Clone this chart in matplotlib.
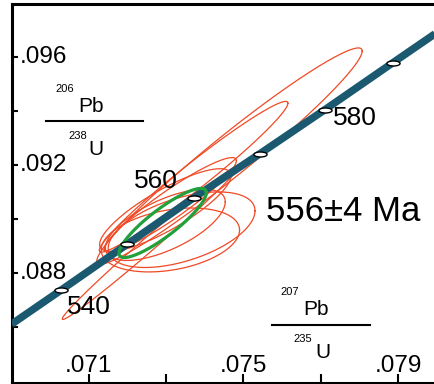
import matplotlib
matplotlib.use('Agg')
import matplotlib.pyplot as plt
import numpy as np
from matplotlib.path import Path

plt.rcParams['font.family'] = ['Liberation Sans', 'DejaVu Sans']

# Concordia ages and ratios (x is 207Pb/235U as labelled)
ages = [540, 550, 560, 570, 580, 590]
conc_x = [0.07029, 0.07200, 0.07371, 0.07542, 0.07710, 0.07886]
conc_y = [0.08737, 0.08907, 0.09078, 0.09241, 0.09404, 0.09578]
# curve continues to the frame edges
line_x = [0.0690] + conc_x + [0.0800]
line_y = [0.0861] + conc_y + [0.0969]
labelled_ages = [540, 560, 580]

# error ellipses: centre x, centre y, sigma x, sigma y, rho
ell_x = [0.07464, 0.07371, 0.07262, 0.07340, 0.07298, 0.07298, 0.07311, 0.07311]
ell_y = [0.09233, 0.09156, 0.08915, 0.08960, 0.08978, 0.09033, 0.09052, 0.08922]
ell_sx = [0.003433, 0.00244, 0.002307, 0.00190, 0.00155, 0.0017, 0.001708, 0.00179]
ell_sy = [0.004004, 0.002793, 0.002874, 0.001400, 0.001319, 0.00153, 0.001752, 0.001184]
ell_rho = [0.971, 0.9756, 0.993, 0.50, 0.647, 0.833, 0.934, 0.31]

# mean age ellipse
mean_x, mean_y, mean_sx, mean_sy, mean_rho = 0.07291, 0.08985, 0.00113, 0.00128, 0.875

xticks = [0.071, 0.073, 0.075, 0.077, 0.079]
xlabels = ['.071', '', '.075', '', '.079']
yticks = [0.086, 0.088, 0.090, 0.092, 0.094, 0.096]
ylabels = ['', '.088', '', '.092', '', '.096']

red = '#f04a25'
teal = '#1b5970'
green = '#22a03c'


def ellipse_points(cx, cy, sx, sy, rho):
    t = np.linspace(0, 2 * np.pi, 300)
    x = cx + sx * np.cos(t)
    y = cy + sy * (rho * np.cos(t) + np.sqrt(1 - rho ** 2) * np.sin(t))
    return x, y


fig = plt.figure(figsize=(4.34, 3.84), dpi=100)
ax = fig.add_axes([11.5 / 434, 1.5 / 384, 422.5 / 434, 379 / 384])
ax.set_xlim(0.069, 0.07993)
ax.set_ylim(0.08394, 0.09798)

for i in range(len(ell_x)):
    ex, ey = ellipse_points(ell_x[i], ell_y[i], ell_sx[i], ell_sy[i], ell_rho[i])
    ax.plot(ex, ey, c=red, lw=0.9, zorder=2)

ax.plot(line_x, line_y, c=teal, lw=5.4, solid_capstyle='butt', zorder=3)

gx, gy = ellipse_points(mean_x, mean_y, mean_sx, mean_sy, mean_rho)
ax.plot(gx, gy, c=green, lw=2.3, zorder=4)

# small oval age markers
circ = Path.unit_circle()
oval = Path(circ.vertices * [1.0, 0.38], circ.codes)
ax.plot(conc_x, conc_y, ls='none', marker=oval, ms=9.5, mfc='white',
        mec='black', mew=1.0, zorder=5)

offsets = {540: (20, -12), 560: (-27, 12), 580: (22, -6)}
for age, x, y in zip(ages, conc_x, conc_y):
    if age in labelled_ages:
        ax.annotate(str(age), xy=(x, y), xytext=offsets[age],
                    textcoords='offset points', ha='center', va='center',
                    fontsize=19)

ax.text(0.785, 0.452, '556\u00b14 Ma', transform=ax.transAxes,
        ha='center', va='center', fontsize=25)

# axis labels as stacked ratios
ax.plot([0.0817, 0.3114], [0.690, 0.690], c='black', lw=1.5, transform=ax.transAxes)
ax.text(0.127, 0.774, '206', transform=ax.transAxes, ha='center', va='center', fontsize=8)
ax.text(0.188, 0.728, 'Pb', transform=ax.transAxes, ha='center', va='center', fontsize=15)
ax.text(0.157, 0.650, '238', transform=ax.transAxes, ha='center', va='center', fontsize=8)
ax.text(0.200, 0.614, 'U', transform=ax.transAxes, ha='center', va='center', fontsize=15)

ax.plot([0.617, 0.8485], [0.1517, 0.1517], c='black', lw=1.5, transform=ax.transAxes)
ax.text(0.659, 0.239, '207', transform=ax.transAxes, ha='center', va='center', fontsize=8)
ax.text(0.7207, 0.1926, 'Pb', transform=ax.transAxes, ha='center', va='center', fontsize=15)
ax.text(0.690, 0.1135, '235', transform=ax.transAxes, ha='center', va='center', fontsize=8)
ax.text(0.737, 0.0792, 'U', transform=ax.transAxes, ha='center', va='center', fontsize=15)

ax.set_xticks(xticks)
ax.set_xticklabels(xlabels, fontsize=17.5, va='bottom')
ax.set_yticks(yticks)
ax.set_yticklabels(ylabels, fontsize=17.5, ha='left', va='center')
ax.tick_params(axis='x', direction='in', length=6.5, width=1.5, pad=-4)
ax.tick_params(axis='y', direction='in', length=4.3, width=1.5, pad=-6)

ax.spines['right'].set_visible(False)
for s in ['left', 'top', 'bottom']:
    ax.spines[s].set_linewidth(2.2)

fig.savefig('out.png', dpi=100)
